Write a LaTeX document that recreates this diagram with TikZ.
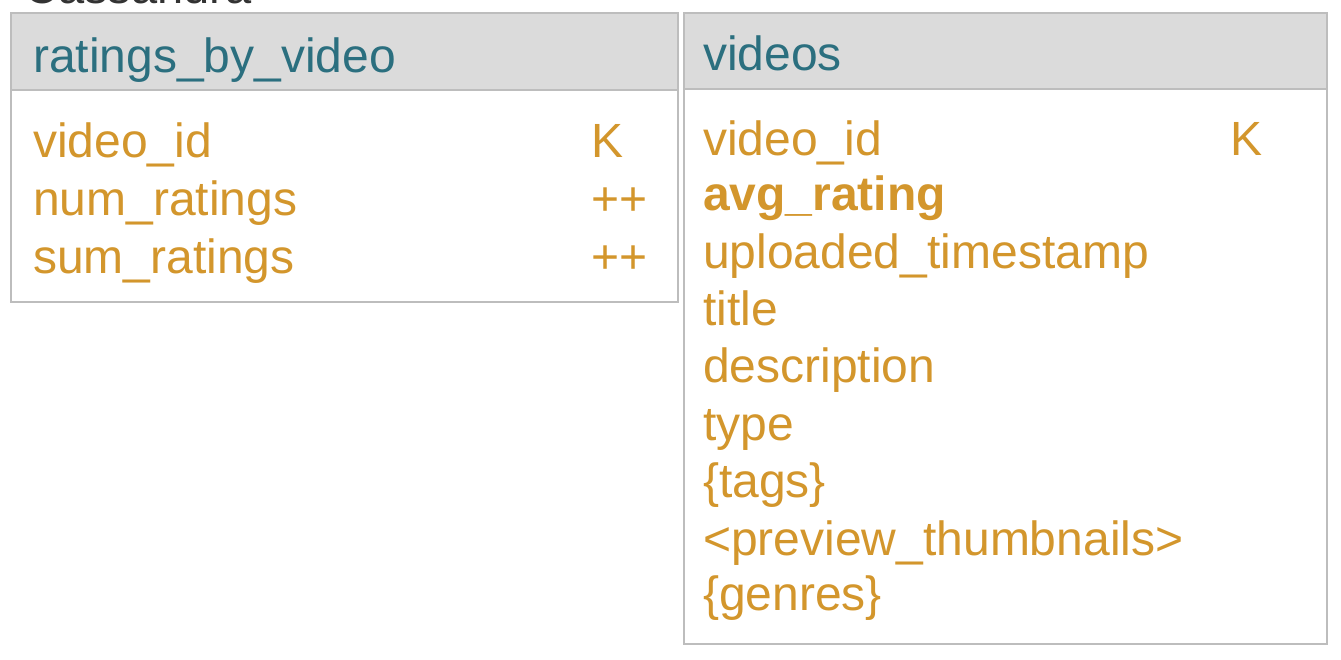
\documentclass[tikz,border=0pt]{standalone}
\usepackage{fontspec}
\setmainfont{Liberation Sans}
\definecolor{hdrtext}{HTML}{2B6F7F}
\definecolor{fieldtext}{HTML}{D3962C}
\definecolor{hdrfill}{HTML}{DBDBDB}
\definecolor{boxline}{HTML}{BDBDBD}
\begin{document}
\begin{tikzpicture}[x=1pt,y=-1pt,
  tablebox/.style={draw=boxline, line width=2pt, fill=white, inner sep=0, anchor=north west},
  hdrbox/.style={draw=boxline, line width=2pt, fill=hdrfill, inner sep=0, anchor=north west},
  hdrlabel/.style={anchor=base west, inner sep=0, text=hdrtext, font=\fontsize{48}{50}\selectfont},
  fieldlabel/.style={anchor=base west, inner sep=0, text=fieldtext, font=\fontsize{48}{50}\selectfont},
  titlelabel/.style={anchor=base west, inner sep=0, text=black!80, font=\fontsize{47}{50}\selectfont}]
\useasboundingbox (0,0) rectangle (1341,659);
\fill[white] (0,0) rectangle (1341,659);
\clip (0,0) rectangle (1341,659);
\node[titlelabel] (title) at (24,3) {Cassandra};
% left table
\node[tablebox, minimum width=667pt, minimum height=289pt] (t1) at (10,12) {};
\node[hdrbox, minimum width=667pt, minimum height=77pt] (t1h) at (10,12) {};
\node[hdrlabel] (t1n) at (33,72) {ratings\_by\_video};
\node[fieldlabel] (t1a) at (33,157) {video\_id};
\node[fieldlabel] (t1b) at (33,215) {num\_ratings};
\node[fieldlabel] (t1c) at (33,273) {sum\_ratings};
\node[fieldlabel] (t1ak) at (591,157) {K};
\node[fieldlabel] (t1bk) at (591,215) {++};
\node[fieldlabel] (t1ck) at (591,273) {++};
% right table
\node[tablebox, minimum width=643pt, minimum height=631pt] (t2) at (683,12) {};
\node[hdrbox, minimum width=643pt, minimum height=76pt] (t2h) at (683,12) {};
\node[hdrlabel] (t2n) at (703,70) {videos};
\node[fieldlabel] (t2a) at (703,155) {video\_id};
\node[fieldlabel] (t2ak) at (1230,155) {K};
\node[fieldlabel, font=\fontsize{48}{50}\selectfont\bfseries] (t2b) at (703,210) {avg\_rating};
\node[fieldlabel] (t2c) at (703,268) {uploaded\_timestamp};
\node[fieldlabel] (t2d) at (703,325) {title};
\node[fieldlabel] (t2e) at (703,382) {description};
\node[fieldlabel] (t2f) at (703,440) {type};
\node[fieldlabel] (t2g) at (703,497) {\{tags\}};
\node[fieldlabel] (t2h2) at (703,555) {<preview\_thumbnails>};
\node[fieldlabel] (t2i) at (703,610) {\{genres\}};
\end{tikzpicture}
\end{document}
